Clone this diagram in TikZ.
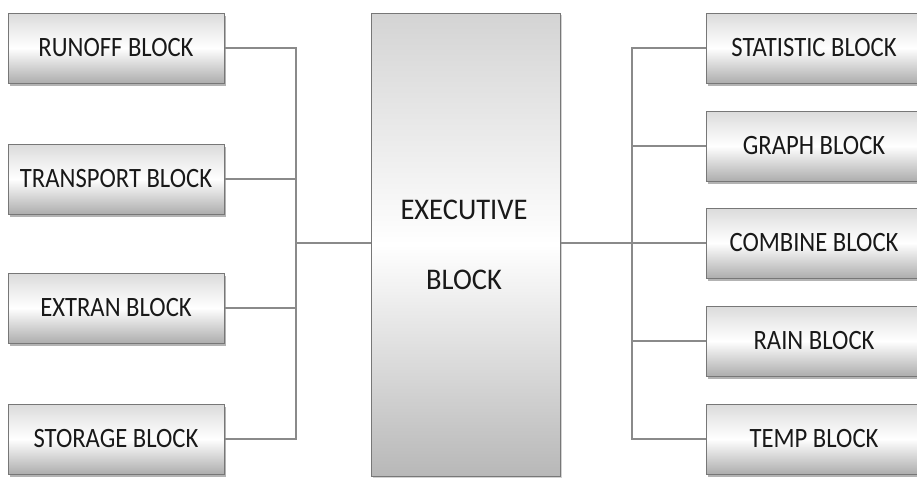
\documentclass[tikz,border=0pt]{standalone}
\usepackage{fontspec}
\usepackage{graphicx}
\setmainfont{Carlito}
\usetikzlibrary{shadows}
\definecolor{linegray}{HTML}{8A8A8A}
\definecolor{boxedge}{HTML}{777777}
\newcommand{\sqz}[1]{\scalebox{0.88}[1]{#1}}
\tikzset{
  blk/.style={draw=boxedge, line width=1pt, rectangle, minimum height=70pt,
    top color=black!14, bottom color=black!32, middle color=white,
    drop shadow={shadow xshift=2pt, shadow yshift=-3pt, fill=black!50, opacity=0.6},
    font=\fontsize{28}{28}\selectfont, text=black!90, inner sep=0pt},
  lblk/.style={blk, minimum width=216pt},
  rblk/.style={blk, minimum width=216pt},
  exectxt/.style={font=\fontsize{30}{30}\selectfont, text=black!90, inner sep=0pt},
  conn/.style={draw=linegray, line width=2pt},
}
\begin{document}
\begin{tikzpicture}[x=1pt,y=-1pt]
\useasboundingbox (0,0) rectangle (917,479);
\clip (0,0) rectangle (917,479);
% executive block
\node[draw=boxedge, line width=1pt, rectangle, minimum width=189pt, minimum height=463pt,
  top color=black!17, bottom color=black!28, middle color=white,
  drop shadow={shadow xshift=1.5pt, shadow yshift=-2pt, fill=black!35, opacity=0.5}]
  (exec) at (465.5,244.5) {};
\node[exectxt] (exect) at (464,210) {\scalebox{0.95}[1]{EXECUTIVE}};
\node[exectxt] (execb) at (464,280) {\scalebox{0.95}[1]{BLOCK}};
% left blocks
\node[lblk] (runoff) at (116,48) {\sqz{RUNOFF BLOCK}};
\node[lblk] (transport) at (116,179) {\sqz{TRANSPORT BLOCK}};
\node[lblk] (extran) at (116,308) {\sqz{EXTRAN BLOCK}};
\node[lblk] (storage) at (116,439) {\sqz{STORAGE BLOCK}};
% right blocks
\node[rblk] (stat) at (814,48) {\sqz{STATISTIC BLOCK}};
\node[rblk] (graph) at (814,146) {\sqz{GRAPH BLOCK}};
\node[rblk] (combine) at (814,243) {\sqz{COMBINE BLOCK}};
\node[rblk] (rain) at (814,341) {\sqz{RAIN BLOCK}};
\node[rblk] (temp) at (814,439) {\sqz{TEMP BLOCK}};
% bus coordinates
\coordinate (lbusT) at (296,48);
\coordinate (lbusB) at (296,439);
\coordinate (lmid) at (296,243);
\coordinate (rbusT) at (632,48);
\coordinate (rbusB) at (632,439);
\coordinate (rmid) at (632,243);
% connectors left
\draw[conn] (runoff.east) -- (lbusT) -- (lbusB) -- (storage.east);
\draw[conn] (transport.east) -- (transport.east -| lmid);
\draw[conn] (extran.east) -- (extran.east -| lmid);
\draw[conn] (lmid) -- (lmid -| exec.west);
% connectors right
\draw[conn] (stat.west) -- (rbusT) -- (rbusB) -- (temp.west);
\draw[conn] (graph.west) -- (graph.west -| rmid);
\draw[conn] (combine.west) -- (combine.west -| rmid);
\draw[conn] (rain.west) -- (rain.west -| rmid);
\draw[conn] (rmid) -- (rmid -| exec.east);
\end{tikzpicture}
\end{document}
